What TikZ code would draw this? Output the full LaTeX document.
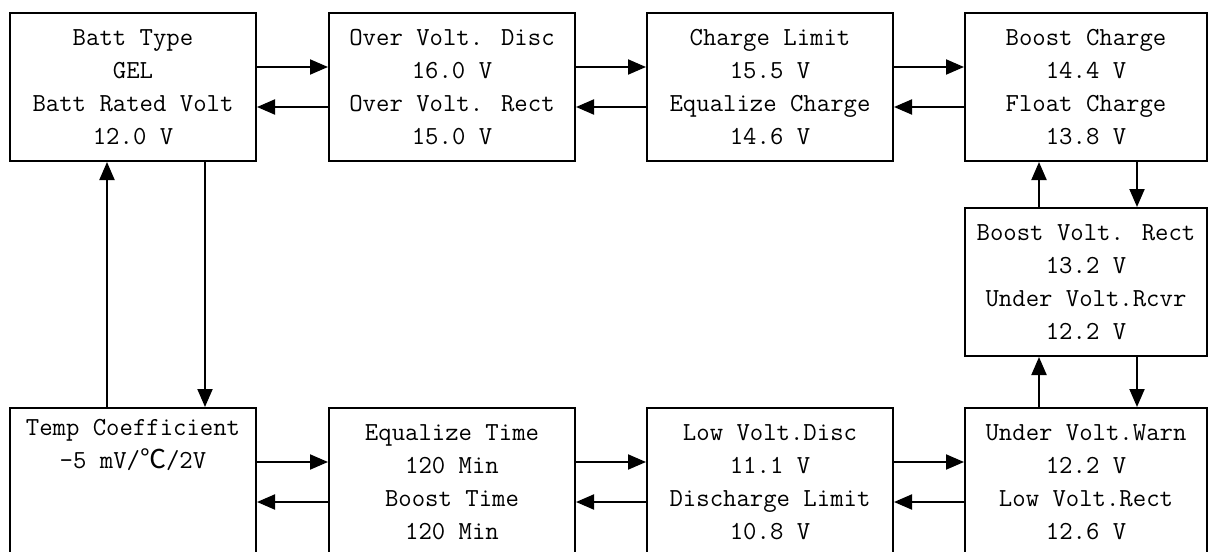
\documentclass[tikz,border=0pt]{standalone}
\usepackage{fontspec}
\newfontfamily\cjkfont{Noto Sans CJK SC}
\usetikzlibrary{arrows.meta}
\begin{document}
\begin{tikzpicture}[x=0.5pt,y=-0.5pt,
  box/.style={draw, line width=1pt, minimum width=123pt, minimum height=74pt,
    align=center, inner sep=0pt, font=\ttfamily\fontsize{13}{16.5}\selectfont},
  rbox/.style={box, minimum width=121pt},
  conn/.style={line width=1pt, -{Triangle[length=9pt,width=7.5pt]}}]
\useasboundingbox (0,0) rectangle (1208,551);
\clip (0,0) rectangle (1208,551);
% top row
\node[box] (bt) at (133,87) {Batt Type\\GEL\\Batt Rated Volt\\12.0 V};
\node[box] (ov) at (452,87) {Over Volt. Disc\\16.0 V\\Over Volt. Rect\\15.0 V};
\node[box] (cl) at (770,87) {Charge Limit\\15.5 V\\Equalize Charge\\14.6 V};
\node[rbox] (bc) at (1086,87) {Boost Charge\\14.4 V\\Float Charge\\13.8 V};
% middle right
\node[rbox] (bv) at (1086,282) {Boost Volt. Rect\\13.2 V\\Under Volt.Rcvr\\12.2 V};
% bottom row
\node[box] (tc) at (133,482) {Temp Coefficient\\-5 mV/{\cjkfont ℃}/2V\\\strut\\\strut};
\node[box] (et) at (452,482) {Equalize Time\\120 Min\\Boost Time\\120 Min};
\node[box] (lv) at (770,482) {Low Volt.Disc\\11.1 V\\Discharge Limit\\10.8 V};
\node[rbox] (uw) at (1086,482) {Under Volt.Warn\\12.2 V\\Low Volt.Rect\\12.6 V};
% horizontal connectors, top row
\draw[conn] ([yshift=10pt]bt.east) -- ([yshift=10pt]ov.west);
\draw[conn] ([yshift=-10pt]ov.west) -- ([yshift=-10pt]bt.east);
\draw[conn] ([yshift=10pt]ov.east) -- ([yshift=10pt]cl.west);
\draw[conn] ([yshift=-10pt]cl.west) -- ([yshift=-10pt]ov.east);
\draw[conn] ([yshift=10pt]cl.east) -- ([yshift=10pt]bc.west);
\draw[conn] ([yshift=-10pt]bc.west) -- ([yshift=-10pt]cl.east);
% horizontal connectors, bottom row
\draw[conn] ([yshift=10pt]tc.east) -- ([yshift=10pt]et.west);
\draw[conn] ([yshift=-10pt]et.west) -- ([yshift=-10pt]tc.east);
\draw[conn] ([yshift=10pt]et.east) -- ([yshift=10pt]lv.west);
\draw[conn] ([yshift=-10pt]lv.west) -- ([yshift=-10pt]et.east);
\draw[conn] ([yshift=10pt]lv.east) -- ([yshift=10pt]uw.west);
\draw[conn] ([yshift=-10pt]uw.west) -- ([yshift=-10pt]lv.east);
% vertical connectors, left
\draw[conn] ([xshift=-13pt]tc.north) -- ([xshift=-13pt]bt.south);
\draw[conn] ([xshift=36pt]bt.south) -- ([xshift=36pt]tc.north);
% vertical connectors, right
\draw[conn] ([xshift=-23.5pt]bv.north) -- ([xshift=-23.5pt]bc.south);
\draw[conn] ([xshift=25.5pt]bc.south) -- ([xshift=25.5pt]bv.north);
\draw[conn] ([xshift=-23.5pt]uw.north) -- ([xshift=-23.5pt]bv.south);
\draw[conn] ([xshift=25.5pt]bv.south) -- ([xshift=25.5pt]uw.north);
\end{tikzpicture}
\end{document}
